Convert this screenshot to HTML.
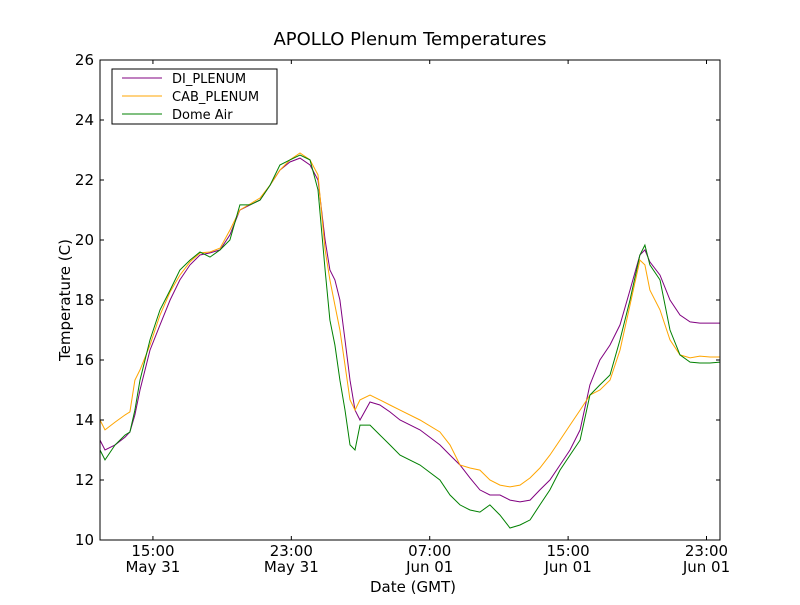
<!DOCTYPE html>
<html><head><meta charset="utf-8"><style>
body{margin:0;background:#fff;}
svg{font-family:"DejaVu Sans","Liberation Sans",sans-serif;}
</style></head><body>
<svg id="chart" width="800" height="600">
<rect width="800" height="600" fill="#fff"/>
<text x="410" y="45" font-size="18" text-anchor="middle">APOLLO Plenum Temperatures</text>
<text x="413" y="592" font-size="15" text-anchor="middle">Date (GMT)</text>
<text transform="translate(70,300) rotate(-90)" font-size="15" text-anchor="middle">Temperature (C)</text>
<g id="series"></g>
<g id="axes"></g>
<rect x="100" y="60" width="620" height="480" fill="none" stroke="#000" stroke-width="1"/>
<g>
<rect x="112" y="69" width="165" height="55" fill="#fff" stroke="#000"/>
<line x1="122" y1="78" x2="162" y2="78" stroke="purple"/>
<text x="172" y="83" font-size="13">DI_PLENUM</text>
<line x1="122" y1="96" x2="162" y2="96" stroke="orange"/>
<text x="172" y="101" font-size="13">CAB_PLENUM</text>
<line x1="122" y1="114" x2="162" y2="114" stroke="green"/>
<text x="172" y="119" font-size="13">Dome Air</text>
</g>
</svg>
<script>
const hours=[11.94,12.23,12.81,13.39,13.67,13.96,14.25,14.83,15.41,15.99,16.56,17.14,17.72,18.30,18.88,19.45,20.03,20.61,21.19,21.77,22.34,22.92,23.50,24.08,24.54,24.95,25.23,25.52,25.81,26.10,26.39,26.68,26.97,27.55,28.12,28.70,29.28,30.44,31.59,32.17,32.75,33.33,33.90,34.48,35.06,35.64,36.22,36.80,37.37,37.95,38.53,39.11,39.69,40.26,40.84,41.42,42.00,42.58,43.15,43.44,43.73,44.31,44.89,45.47,46.05,46.62,47.20,47.78];
const diPlenum=[13.33,13.0,13.17,13.43,13.6,14.17,15.0,16.33,17.17,18.0,18.67,19.17,19.5,19.57,19.67,20.17,21.0,21.17,21.33,21.83,22.33,22.6,22.73,22.5,22.0,20.0,19.0,18.67,18.0,16.67,15.33,14.33,14.0,14.6,14.5,14.27,14.0,13.67,13.17,12.83,12.5,12.07,11.67,11.5,11.5,11.33,11.27,11.33,11.67,12.0,12.5,13.0,13.67,15.17,16.0,16.5,17.17,18.33,19.5,19.67,19.27,18.83,18.0,17.5,17.27,17.23,17.23,17.23];
const cabPlenum=[14.0,13.67,13.93,14.17,14.27,15.33,15.67,16.5,17.5,18.27,18.83,19.27,19.57,19.6,19.73,20.33,21.0,21.2,21.4,21.83,22.33,22.67,22.9,22.67,22.17,19.67,18.67,17.83,17.0,15.83,14.67,14.33,14.67,14.83,14.67,14.5,14.33,14.0,13.6,13.17,12.5,12.4,12.33,12.0,11.83,11.77,11.83,12.07,12.4,12.83,13.33,13.83,14.33,14.83,15.0,15.33,16.33,17.83,19.33,19.17,18.33,17.67,16.67,16.17,16.07,16.13,16.1,16.1];
const domeAir=[13.0,12.67,13.17,13.5,13.6,14.33,15.33,16.67,17.67,18.33,19.0,19.33,19.6,19.43,19.67,20.0,21.17,21.17,21.33,21.83,22.5,22.67,22.83,22.67,21.67,19.0,17.33,16.5,15.33,14.33,13.17,13.0,13.83,13.83,13.5,13.17,12.83,12.5,12.0,11.5,11.17,11.0,10.93,11.17,10.83,10.4,10.5,10.67,11.17,11.67,12.33,12.83,13.33,14.83,15.17,15.5,16.67,18.0,19.5,19.83,19.17,18.67,17.0,16.17,15.93,15.9,15.9,15.93];
const yTicks=[10,12,14,16,18,20,22,24,26];
const xTickHours=[15,23,31,39,47];
const xTickTimes=["15:00","23:00","07:00","15:00","23:00"];
const xTickDates=["May 31","May 31","Jun 01","Jun 01","Jun 01"];
const X0=100,X1=720,Y0=540,Y1=60,TMIN=11.94,TMAX=47.78,VMIN=10,VMAX=26;
function xs(t){return X0+(t-TMIN)/(TMAX-TMIN)*(X1-X0);}
function ys(v){return Y0-(v-VMIN)/(VMAX-VMIN)*(Y0-Y1);}
const NS="http://www.w3.org/2000/svg";
const sg=document.getElementById('series');
[[diPlenum,'purple','di-plenum-line'],[cabPlenum,'orange','cab-plenum-line'],[domeAir,'green','dome-air-line']].forEach(function(s){
  const p=document.createElementNS(NS,'polyline');
  p.setAttribute('points',s[0].map(function(v,i){return xs(hours[i]).toFixed(1)+','+ys(v).toFixed(1);}).join(' '));
  p.setAttribute('fill','none');p.setAttribute('stroke',s[1]);p.setAttribute('stroke-width','1');
  
  
  sg.appendChild(p);
});
const ag=document.getElementById('axes');
yTicks.forEach(function(v){
  const y=ys(v);
  [[X0,X0+4],[X1,X1-4]].forEach(function(a){
    const l=document.createElementNS(NS,'line');
    l.setAttribute('x1',a[0]);l.setAttribute('x2',a[1]);l.setAttribute('y1',y);l.setAttribute('y2',y);l.setAttribute('stroke','#000');
    
    
    ag.appendChild(l);
  });
  const t=document.createElementNS(NS,'text');
  t.setAttribute('x',X0-6);t.setAttribute('y',y+5);t.setAttribute('text-anchor','end');t.setAttribute('font-size','15');
  t.textContent=v;
  
  
  ag.appendChild(t);
});
xTickHours.forEach(function(h,i){
  const x=xs(h);
  [[Y0,Y0-4],[Y1,Y1+4]].forEach(function(a){
    const l=document.createElementNS(NS,'line');
    l.setAttribute('x1',x);l.setAttribute('x2',x);l.setAttribute('y1',a[0]);l.setAttribute('y2',a[1]);l.setAttribute('stroke','#000');
    
    
    ag.appendChild(l);
  });
  [[xTickTimes[i],556],[xTickDates[i],572]].forEach(function(a){
    const t=document.createElementNS(NS,'text');
    t.setAttribute('x',x);t.setAttribute('y',a[1]);t.setAttribute('text-anchor','middle');t.setAttribute('font-size','15');
    t.textContent=a[0];
    
    
    ag.appendChild(t);
  });
});
</script>
</body></html>
